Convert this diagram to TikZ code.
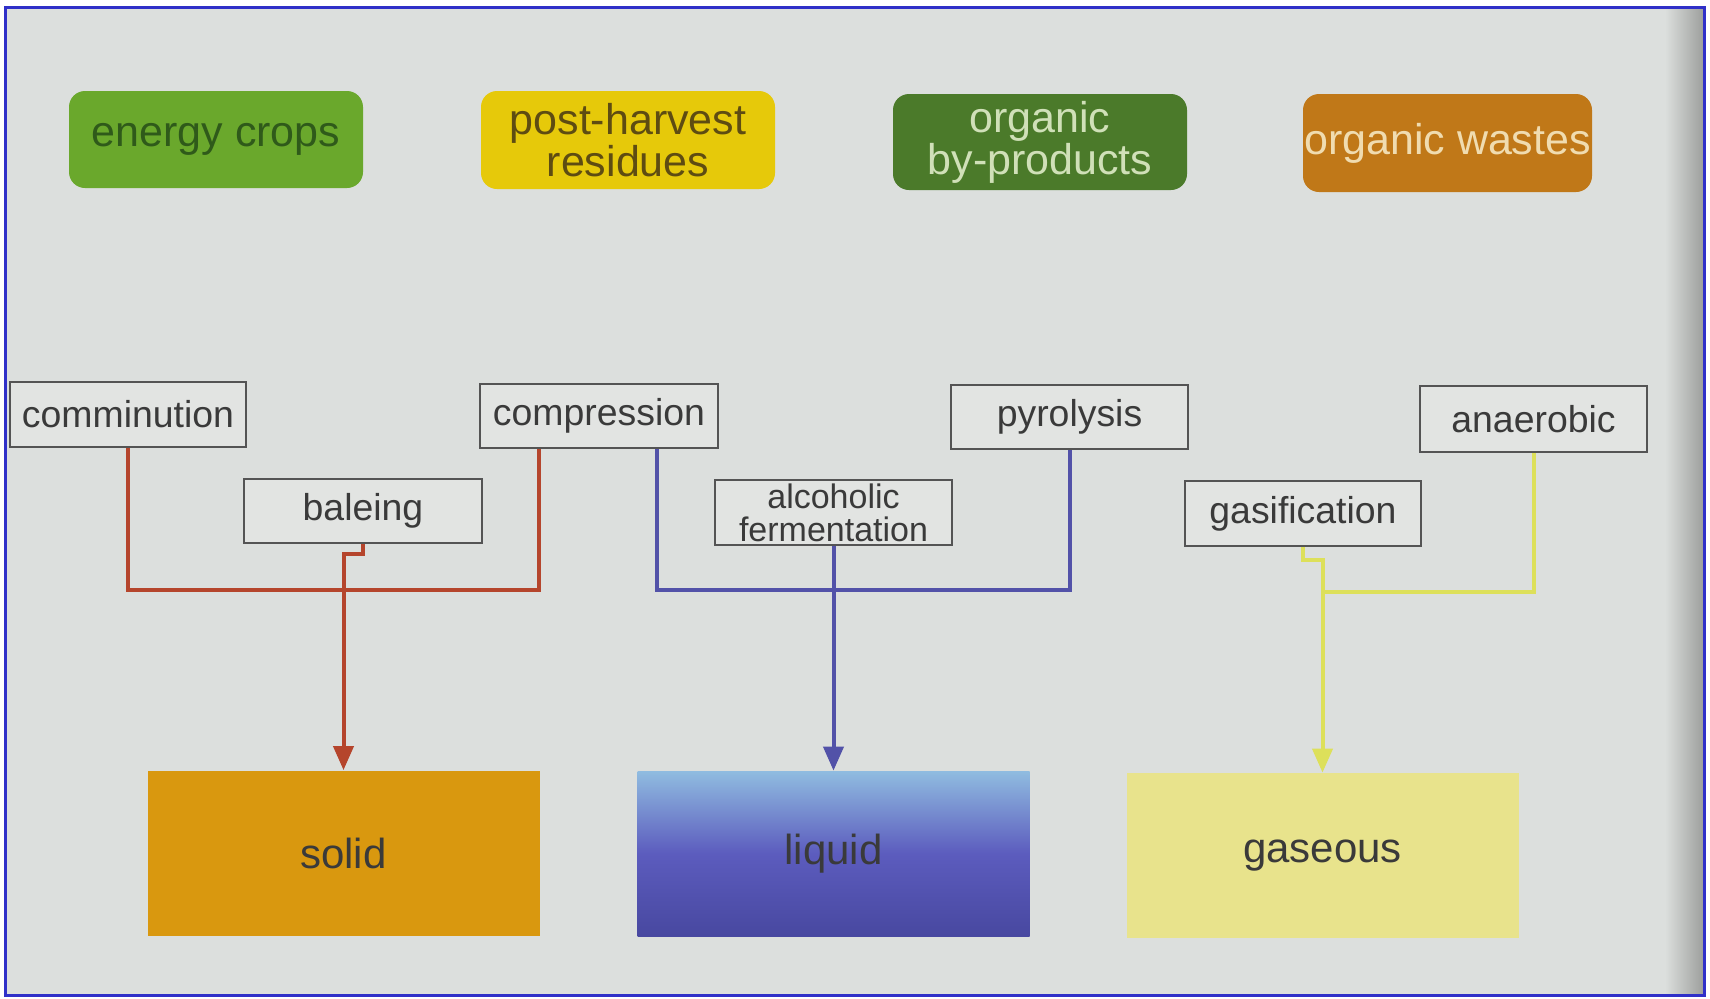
\documentclass[tikz,border=0pt]{standalone}
\usepackage{fontspec}
\setmainfont{Liberation Sans}
\usetikzlibrary{arrows.meta}
\definecolor{bgc}{HTML}{DCDFDD}
\definecolor{shadowc}{HTML}{9C9E9C}
\definecolor{framec}{HTML}{3030C8}
\definecolor{boxfill}{HTML}{E2E4E2}
\definecolor{boxborder}{HTML}{545454}
\definecolor{proctext}{HTML}{3A3A3A}
\definecolor{ecfill}{HTML}{6AA82C}
\definecolor{ectext}{HTML}{2F5A1A}
\definecolor{phfill}{HTML}{E6C90A}
\definecolor{phtext}{HTML}{5E4C12}
\definecolor{obfill}{HTML}{4B7A2A}
\definecolor{obtext}{HTML}{D0E0B8}
\definecolor{owfill}{HTML}{C07818}
\definecolor{owtext}{HTML}{F0DCB0}
\definecolor{solidc}{HTML}{D9980F}
\definecolor{gasc}{HTML}{E8E38C}
\definecolor{liqtop}{HTML}{90BCE0}
\definecolor{liqmid}{HTML}{5C5CBE}
\definecolor{liqbot}{HTML}{4848A0}
\definecolor{redc}{HTML}{B5452C}
\definecolor{bluec}{HTML}{5252A8}
\definecolor{yelc}{HTML}{DDE05A}
\begin{document}
\begin{tikzpicture}[x=0.5pt,y=-0.5pt,
  topbox/.style={rounded corners=8pt, inner sep=0pt, align=center, font=\fontsize{21.5}{19.5}\selectfont},
  procbox/.style={draw=boxborder, line width=1.4pt, fill=boxfill, inner sep=0pt, align=center, text=proctext, font=\fontsize{18.7}{14.5}\selectfont},
  statebox/.style={inner sep=0pt, minimum width=196pt, minimum height=82.5pt, text=proctext, font=\fontsize{21}{21}\selectfont},
  conn/.style={line width=2pt},
  arr/.style={-{Triangle[length=12pt,width=10pt]}}
]
\useasboundingbox (0,0) rectangle (1710,998);
\fill[white] (0,0) rectangle (1710,998);
\fill[bgc] (5,7) rectangle (1704,995);
\shade[left color=bgc, right color=shadowc] (1665,7) rectangle (1704,995);
\draw[framec, line width=1.5pt] (5,7) rectangle (1704,995);

% top categories
\node[topbox, fill=ecfill, text=ectext, minimum width=147pt, minimum height=48.5pt] (ec) at (216,139.5) {energy crops};
\node[topbox, fill=phfill, text=phtext, minimum width=147pt, minimum height=49pt] (ph) at (628,140) {post-harvest\\residues};
\node[topbox, fill=obfill, text=obtext, minimum width=147pt, minimum height=48pt] (ob) at (1040,142) {organic\\by-products};
\node[topbox, fill=owfill, text=owtext, minimum width=144.5pt, minimum height=49pt] (ow) at (1447.5,143) {organic wastes};

% processes
\node[procbox, minimum width=118pt, minimum height=32.5pt] (comm) at (128,414.5) {comminution};
\node[procbox, minimum width=119pt, minimum height=32pt] (compr) at (599,416) {compression};
\node[procbox, minimum width=118.5pt, minimum height=32pt] (pyro) at (1069.5,417) {pyrolysis};
\node[procbox, minimum width=113.5pt, minimum height=33pt] (anaer) at (1533.5,419) {anaerobic};
\node[procbox, minimum width=119pt, minimum height=32pt] (bal) at (363,511) {baleing};
\node[procbox, minimum width=118.5pt, minimum height=32.5pt, font=\fontsize{17}{16.5}\selectfont] (ferm) at (833.5,512.5) {alcoholic\\fermentation};
\node[procbox, minimum width=118pt, minimum height=32.5pt] (gas) at (1303,513.5) {gasification};

% states
\node[statebox, fill=solidc] (solid) at (343.5,853) {solid};
\node[statebox, top color=liqtop, bottom color=liqbot, middle color=liqmid] (liquid) at (833.5,853.5) {liquid};
\node[statebox, fill=gasc] (gaseous) at (1322.5,855.5) {gaseous};

% connectors
\coordinate (rj) at (539,590);
\draw[conn, redc] (comm.south) |- (rj) -- (rj |- compr.south);
\draw[conn, redc, arr] (bal.south) -- ++(0,10) -| (solid.north);

\coordinate (bj) at (657,590);
\draw[conn, bluec] (bj |- compr.south) -- (bj) -| (pyro.south);
\draw[conn, bluec, arr] (ferm.south) -- (liquid.north);

\coordinate (yj) at (1322.5,592);
\draw[conn, yelc] (anaer.south) |- (yj);
\draw[conn, yelc, arr] (gas.south) -- ++(0,13) -| (gaseous.north);
\end{tikzpicture}
\end{document}
